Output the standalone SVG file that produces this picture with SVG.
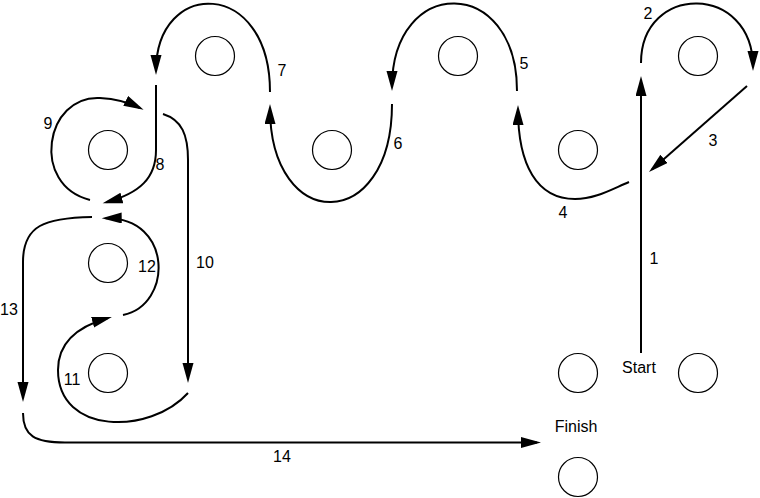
<svg xmlns="http://www.w3.org/2000/svg" width="760" height="498" viewBox="0 0 760 498">
<style>
.spot{fill:none;stroke:#000;stroke-width:1.2}
.c{fill:none;stroke:#000;stroke-width:2}
text{font-family:"Liberation Sans",Arial,sans-serif;font-size:16px;fill:#000}
.m{text-anchor:middle}
</style>
<defs>
<marker id="ah" markerUnits="userSpaceOnUse" markerWidth="22" markerHeight="12" refX="16" refY="5.5" orient="auto">
<path d="M0,0 L20,5.5 L0,11 z" fill="#000"/>
</marker>
</defs>
<rect width="760" height="498" fill="#fff"/>
<g id="spots">
<circle id="s1" class="spot" cx="215" cy="56" r="19.5"/>
<circle id="s2" class="spot" cx="458" cy="56" r="19.5"/>
<circle id="s3" class="spot" cx="698" cy="56" r="19.5"/>
<circle id="s4" class="spot" cx="108" cy="150" r="19.5"/>
<circle id="s5" class="spot" cx="332" cy="150" r="19.5"/>
<circle id="s6" class="spot" cx="578" cy="150" r="19.5"/>
<circle id="s7" class="spot" cx="108" cy="263" r="19.5"/>
<circle id="s8" class="spot" cx="108" cy="373" r="19.5"/>
<circle id="s9" class="spot" cx="578" cy="373" r="19.5"/>
<circle id="s10" class="spot" cx="698" cy="373" r="19.5"/>
<circle id="s11" class="spot" cx="578" cy="477" r="19.5"/>
</g>
<g id="connectors" marker-end="url(#ah)">
<path id="p1" class="c" d="M641,353 L641,80"/>
<path id="p2" class="c" d="M641,63 C641,-17 753,-17 753,67"/>
<path id="p3" class="c" d="M747,86 L652,169.4"/>
<path id="p4" class="c" d="M629,182 C610,190 595,199 575,199 C537,199 518,165 518,109"/>
<path id="p5" class="c" d="M517,91 C517,-25 392,-25 392,87"/>
<path id="p6" class="c" d="M392,104 C392,234 270,234 270,108"/>
<path id="p7" class="c" d="M270,92 C270,-22 156,-22 156,71"/>
<path id="p8" class="c" d="M156,85 L156,150 C156,178 140,193 106.5,202.3"/>
<path id="p9" class="c" d="M90,200 C30,185 45,95 100,98 C118,99 130,103 140,108"/>
<path id="p10" class="c" d="M163,114 C182,120 188,135 188,160 L188,379"/>
<path id="p11" class="c" d="M188,393 C150,435 58,435 58,370 C58,335 90,323 108,318"/>
<path id="p12" class="c" d="M123,315 C173,305 173,217 105.7,218.2"/>
<path id="p13" class="c" d="M92,217 C45,218 23,225 23,262 L23,398"/>
<path id="p14" class="c" d="M23,413 C23,436 35,442.5 65,442.5 L537,442.5"/>
</g>
<g id="labels">
<text class="m" x="654" y="263.5">1</text>
<text class="m" x="648" y="19">2</text>
<text class="m" x="713" y="146">3</text>
<text class="m" x="563" y="218">4</text>
<text class="m" x="524" y="68.5">5</text>
<text class="m" x="398" y="149">6</text>
<text class="m" x="282" y="76">7</text>
<text class="m" x="160" y="170">8</text>
<text class="m" x="48" y="129">9</text>
<text class="m" x="205" y="268">10</text>
<text class="m" x="72" y="385">11</text>
<text class="m" x="147" y="272">12</text>
<text class="m" x="9" y="315">13</text>
<text class="m" x="282" y="461.5">14</text>
<text class="m" x="639" y="373">Start</text>
<text class="m" x="576" y="432">Finish</text>
</g>
</svg>
